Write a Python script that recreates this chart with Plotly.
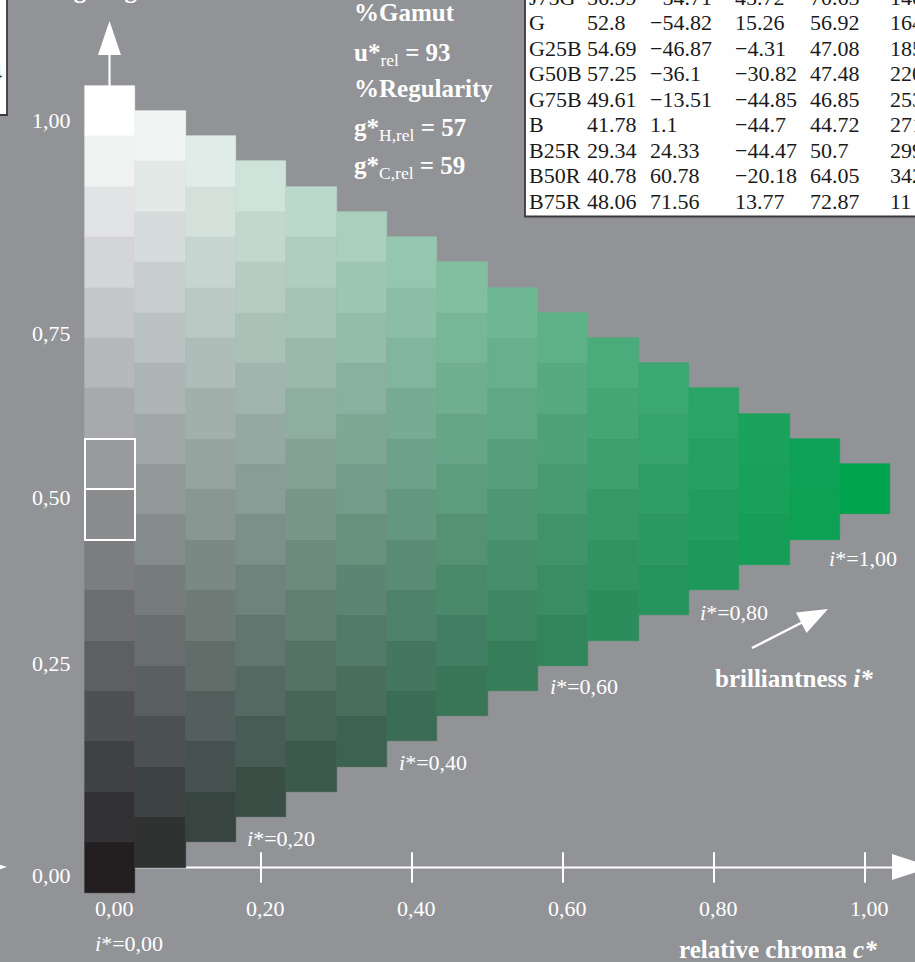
import numpy as np
import plotly.graph_objects as go

# ---------------- data ----------------
chroma_steps = [0.0, 1/15, 2/15, 3/15, 4/15, 5/15, 6/15, 7/15, 8/15, 9/15,
                10/15, 11/15, 12/15, 13/15, 14/15, 1.0]
cells_per_column = [16, 15, 14, 13, 12, 11, 10, 9, 8, 7, 6, 5, 4, 3, 2, 1]
highlight_lightness = [7/15, 8/15]

x_tick_vals = [0.0, 0.2, 0.4, 0.6, 0.8, 1.0]
x_tick_text = ["0,00", "0,20", "0,40", "0,60", "0,80", "1,00"]
y_tick_text = ["1,00", "0,75", "0,50", "0,25", "0,00"]
brilliance_text = ["0,00", "0,20", "0,40", "0,60", "0,80", "1,00"]

stat_names = ["u*", "g*", "g*"]
stat_subs = ["rel", "H,rel", "C,rel"]
stat_values = [93, 57, 59]

tab_names = ["J75G", "G", "G25B", "G50B", "G75B", "B", "B25R", "B50R", "B75R"]
tab_L = [56.99, 52.8, 54.69, 57.25, 49.61, 41.78, 29.34, 40.78, 48.06]
tab_a = [-54.71, -54.82, -46.87, -36.1, -13.51, 1.1, 24.33, 60.78, 71.56]
tab_b = [45.72, 15.26, -4.31, -30.82, -44.85, -44.7, -44.47, -20.18, 13.77]
tab_C = [70.65, 56.92, 47.08, 47.48, 46.85, 44.72, 50.7, 64.05, 72.87]
tab_h = [140, 164, 185, 220, 253, 271, 299, 342, 11]

# ---------------- styling ----------------
W, H = 915, 962
BG = "#929397"
SERIF = "Liberation Serif"
BLACK = np.array([35, 31, 32], float)
WHITE = np.array([255, 255, 255], float)
GREEN = np.array([0, 163, 78], float)
TINT = np.array([0, 4, 6], float)

# pixel mapping (for the axis ranges)
PX0, PXS = 110.0, 755.0     # c=0 at px 110, 755 px per unit
PY0, PYS = 867.5, 756.5     # t=0 at py 867.5
xr = [(0 - PX0) / PXS, (W - PX0) / PXS]
yr = [(PY0 - H) / PYS, (PY0 - 0) / PYS]


def P(px, py):
    return px / W, 1 - py / H


def cell_color(c, t):
    s = max(0.0, min(1.0, 15 * t, 3 * (1 - t)))
    gray = BLACK + t * (WHITE - BLACK) + s * TINT
    k = c ** 1.3
    col = (1 - k) * gray + k * GREEN
    if c > 0:
        lift = 12 * min(1.0, c / 0.12) * max(0.0, 1 - c / 0.6) * min(1.0, 2 * (1 - t))
        col = col + lift
    col = np.clip(np.round(col), 0, 255).astype(int)
    return "rgb(%d,%d,%d)" % tuple(col)


xs, bases, hs, cols = [], [], [], []
step = 1 / 15
for c, n in zip(chroma_steps, cells_per_column):
    for k in range(n):
        t = c / 2 + k * step
        xs.append(c)
        bases.append(t - step / 2)
        hs.append(step)
        cols.append(cell_color(c, t))

fig = go.Figure()
fig.add_trace(go.Bar(
    x=xs, y=hs, base=bases, width=step,
    marker=dict(color=cols, line=dict(color=cols, width=0.6)),
    hoverinfo="skip", showlegend=False))

fig.add_trace(go.Bar(
    x=[0.0] * len(highlight_lightness), y=[step] * len(highlight_lightness),
    base=[t - step / 2 for t in highlight_lightness], width=step,
    marker=dict(color="rgba(0,0,0,0)", line=dict(color="white", width=2)),
    hoverinfo="skip", showlegend=False))

shapes = []
# x axis line (below cells)
shapes.append(dict(type="line", xref="x", yref="y", x0=0, x1=(895 - PX0) / PXS,
                   y0=0, y1=0, line=dict(color="white", width=2), layer="below"))
for v in x_tick_vals[1:]:
    shapes.append(dict(type="line", xref="x", yref="y", x0=v, x1=v,
                       y0=-0.02, y1=0.02, line=dict(color="white", width=2), layer="below"))


def tri(points):
    pts = [P(*p) for p in points]
    return "M %f %f L %f %f L %f %f Z" % (pts[0] + pts[1] + pts[2])


# right arrow head of x axis
shapes.append(dict(type="path", xref="paper", yref="paper",
                   path=tri([(892, 854), (932, 867), (892, 880)]),
                   fillcolor="white", line=dict(color="white", width=0)))
# small arrow tip at far left
shapes.append(dict(type="path", xref="paper", yref="paper",
                   path=tri([(-33, 854), (7, 867), (-33, 880)]),
                   fillcolor="white", line=dict(color="white", width=0)))
# vertical arrow
x0p, y0p = P(109.5, 86)
x1p, y1p = P(109.5, 52)
shapes.append(dict(type="line", xref="paper", yref="paper", x0=x0p, x1=x1p,
                   y0=y0p, y1=y1p, line=dict(color="white", width=2.2)))
shapes.append(dict(type="path", xref="paper", yref="paper",
                   path=tri([(98, 55), (109.5, 21), (121, 55)]),
                   fillcolor="white", line=dict(color="white", width=0)))
# brilliantness arrow
a0 = P(752, 648)
a1 = P(802, 622.5)
shapes.append(dict(type="line", xref="paper", yref="paper", x0=a0[0], x1=a1[0],
                   y0=a0[1], y1=a1[1], line=dict(color="white", width=2.5)))
shapes.append(dict(type="path", xref="paper", yref="paper",
                   path=tri([(806.5, 633), (828, 609), (796, 612.5)]),
                   fillcolor="white", line=dict(color="white", width=0)))
# table box
b0 = P(525, -5)
b1 = P(940, 216.5)
shapes.append(dict(type="rect", xref="paper", yref="paper", x0=b0[0], x1=b1[0],
                   y0=b1[1], y1=b0[1], fillcolor="white",
                   line=dict(color="#3a3a3a", width=1.8)))
# top-left box (cut off)
c0 = P(-20, -5)
c1 = P(7, 115)
shapes.append(dict(type="rect", xref="paper", yref="paper", x0=c0[0], x1=c1[0],
                   y0=c1[1], y1=c0[1], fillcolor="white",
                   line=dict(color="#3a3a3a", width=1.8)))

ann = []


def text(px, py, s, size=22, bold=False, color="white", xanchor="left", yanchor="middle"):
    x, y = P(px, py)
    if bold:
        s = "<b>" + s + "</b>"
    ann.append(dict(x=x, y=y, xref="paper", yref="paper", text=s, showarrow=False,
                    xanchor=xanchor, yanchor=yanchor,
                    font=dict(family=SERIF, size=size, color=color)))


def sub(s):
    return "<sub><span style='font-weight:normal'>%s</span></sub>" % s


# stats
stat_lines = ["%Gamut",
              "%s%s = %d" % (stat_names[0], sub(stat_subs[0]), stat_values[0]),
              "%Regularity",
              "%s%s = %d" % (stat_names[1], sub(stat_subs[1]), stat_values[1]),
              "%s%s = %d" % (stat_names[2], sub(stat_subs[2]), stat_values[2])]
for i, s in enumerate(stat_lines):
    text(352, 13 + 37.6 * i + (4 if "sub" in s else 0), s, size=25, bold=True)

# y tick labels
for s, py in zip(y_tick_text, [120, 333, 497, 663, 875]):
    text(73, py, s, xanchor="right")

# x tick labels
for v, s in zip(x_tick_vals, x_tick_text):
    text(PX0 + v * PXS + 4, 908, s, xanchor="center")

# brilliantness labels
for s, (px, py) in zip(brilliance_text, [(93, 943), (245, 838), (397, 762),
                                         (548, 686), (698, 612), (827, 558)]):
    text(px, py, "<i>i</i>*=" + s)

text(713, 678, "brilliantness <i>i*</i>", size=25, bold=True)
text(677, 949, "relative chroma <i>c*</i>", size=25, bold=True)
# cut-off title at top (only the descenders show)
text(19, 5, "triangle lightness <i>t*</i>", size=25, bold=True, yanchor="bottom")
# cut-off digit in the left box
text(4, 72, "4", color="#222", xanchor="right")

# table
row_y = [-3 + 25.57 * i for i in range(len(tab_names))]


def fmt(v):
    s = ("%g" % v)
    return s.replace("-", "\u2212")


col_x = [527, 585, 648, 733, 808, 888]
for i, name in enumerate(tab_names):
    vals = [name, fmt(tab_L[i]), fmt(tab_a[i]), fmt(tab_b[i]), fmt(tab_C[i]), str(tab_h[i])]
    for px, s in zip(col_x, vals):
        text(px, row_y[i], s, size=22, color="#1a1a1a")

fig.update_layout(
    width=W, height=H, autosize=False,
    margin=dict(l=0, r=0, t=0, b=0),
    paper_bgcolor=BG, plot_bgcolor=BG,
    barmode="overlay", bargap=0,
    xaxis=dict(range=xr, visible=False, fixedrange=True),
    yaxis=dict(range=yr, visible=False, fixedrange=True),
    shapes=shapes, annotations=ann, showlegend=False,
)
fig.write_html(
    "out.html",
    config={"displayModeBar": False},
    post_script="document.body.style.margin='0';document.body.style.overflow='hidden';",
)
